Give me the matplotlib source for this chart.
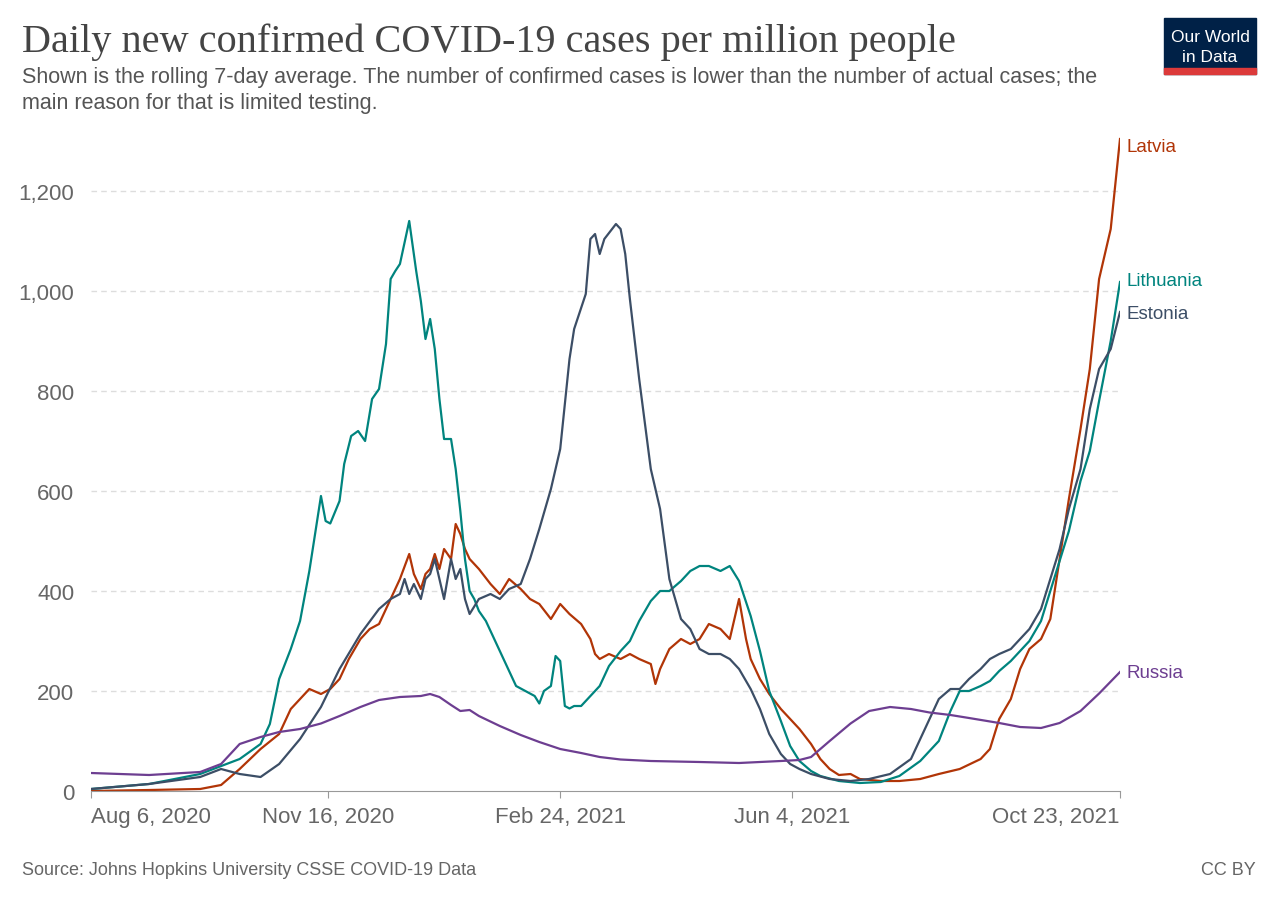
import matplotlib
matplotlib.use("Agg")
import matplotlib.pyplot as plt
from matplotlib.patches import Rectangle

plt.rcParams['font.family'] = ['Liberation Sans', 'DejaVu Sans']

tick_days = [0, 102, 202, 302, 443]
tick_labels = ["Aug 6, 2020", "Nov 16, 2020", "Feb 24, 2021", "Jun 4, 2021", "Oct 23, 2021"]
y_ticks = [0, 200, 400, 600, 800, 1000, 1200]

lithuania = [(0,4),(25,14),(47,34),(64,64),(73,94),(77,134),(81,224),(86,284),(90,340),(94,440),(99,590),(101,540),(103,535),(107,580),(109,654),(112,710),(115,720),(118,700),(121,784),(124,804),(127,894),(129,1024),(131,1040),(133,1054),(137,1140),(140,1040),(142,980),(144,904),(146,944),(148,884),(150,784),(152,704),(155,704),(157,644),(159,560),(161,464),(163,400),(165,384),(167,360),(170,340),(174,300),(178,260),(183,210),(187,200),(191,190),(193,175),(195,200),(198,210),(200,270),(202,260),(204,170),(206,165),(208,170),(211,170),(215,190),(219,210),(223,250),(228,280),(232,300),(236,340),(241,380),(245,400),(249,400),(254,420),(258,440),(262,450),(266,450),(271,440),(275,450),(279,420),(284,350),(288,280),(292,200),(297,140),(301,90),(305,60),(310,40),(314,30),(322,20),(331,16),(340,18),(348,30),(357,60),(365,100),(370,160),(374,200),(378,200),(383,210),(387,220),(391,240),(396,260),(400,280),(404,300),(409,340),(413,400),(417,460),(421,520),(426,620),(430,680),(434,780),(439,900),(443,1018)]

estonia = [(0,4),(25,14),(47,28),(56,44),(64,34),(73,28),(81,54),(90,104),(99,168),(107,244),(116,314),(124,364),(129,384),(133,394),(135,424),(137,394),(139,414),(142,384),(144,424),(146,434),(148,464),(150,424),(152,384),(155,464),(157,424),(159,444),(161,384),(163,354),(167,384),(172,394),(176,384),(180,404),(185,414),(189,464),(193,524),(198,604),(202,684),(206,864),(208,924),(213,994),(215,1104),(217,1114),(219,1074),(221,1104),(226,1134),(228,1124),(230,1074),(232,984),(236,824),(241,644),(245,564),(249,424),(254,344),(258,324),(262,284),(266,274),(271,274),(275,264),(279,244),(284,204),(288,164),(292,114),(297,74),(301,54),(305,44),(310,34),(318,24),(327,20),(335,24),(344,34),(353,64),(357,104),(361,144),(365,184),(370,204),(374,204),(378,224),(383,244),(387,264),(391,274),(396,284),(400,304),(404,324),(409,364),(413,424),(417,484),(421,564),(426,644),(430,764),(434,844),(439,884),(443,958)]

latvia = [(0,0),(25,2),(47,4),(56,12),(64,44),(73,84),(81,114),(86,164),(90,184),(94,204),(99,194),(103,204),(107,224),(111,264),(116,304),(120,324),(124,334),(129,384),(133,424),(137,474),(139,434),(142,404),(144,434),(146,444),(148,474),(150,444),(152,484),(155,464),(157,534),(159,514),(161,484),(163,464),(167,444),(172,414),(176,394),(180,424),(185,404),(189,384),(193,374),(198,344),(202,374),(206,354),(211,334),(215,304),(217,274),(219,264),(223,274),(228,264),(232,274),(236,264),(241,254),(243,214),(245,244),(249,284),(254,304),(258,294),(262,304),(266,334),(271,324),(275,304),(279,384),(282,304),(284,264),(288,224),(292,194),(297,164),(301,144),(305,124),(310,94),(314,64),(318,44),(322,32),(327,34),(331,24),(340,20),(348,20),(357,24),(365,34),(374,44),(383,64),(387,84),(391,144),(396,184),(400,244),(404,284),(409,304),(413,344),(417,464),(421,584),(426,724),(430,844),(434,1024),(439,1124),(443,1304)]

russia = [(0,36),(25,32),(47,38),(56,54),(64,94),(73,108),(81,118),(90,124),(99,135),(107,150),(116,168),(124,182),(133,188),(142,190),(146,194),(150,188),(155,172),(159,160),(163,162),(167,150),(176,130),(185,112),(193,98),(202,84),(211,76),(219,68),(228,63),(241,60),(262,58),(279,56),(288,58),(297,60),(305,62),(310,68),(318,100),(327,135),(335,160),(344,168),(353,164),(361,157),(370,152),(378,146),(391,136),(400,128),(409,126),(417,136),(426,160),(434,195),(443,238)]

series = [("Latvia", latvia, "#b13507"), ("Lithuania", lithuania, "#00847e"),
          ("Estonia", estonia, "#3c4e66"), ("Russia", russia, "#6d3e91")]

fig = plt.figure(figsize=(12.8, 9.04), dpi=100)
ax = fig.add_axes([91/1280, 1-792/904, (1120-91)/1280, (792-135)/904])
for name, data, c in series:
    xs = [p[0] for p in data]; ys = [p[1] for p in data]
    ax.plot(xs, ys, color=c, lw=1.6, solid_joinstyle="round")
label_y = {"Latvia": 1290, "Lithuania": 1020, "Estonia": 955, "Russia": 238}
for name, data, c in series:
    ax.text(446, label_y[name], name, color=c, fontsize=13.5, va="center", ha="left")

ax.set_xlim(0, 443)
ax.set_ylim(0, 1314)
ax.set_yticks(y_ticks)
ax.set_yticklabels([f"{v:,}" for v in y_ticks], fontsize=16, color="#666666")
ax.set_xticks(tick_days)
ax.set_xticklabels(tick_labels, fontsize=16, color="#666666")
xl = ax.get_xticklabels()
xl[0].set_ha("left"); xl[-1].set_ha("right")
ax.tick_params(axis="y", length=0, pad=12)
ax.tick_params(axis="x", length=5, color="#999999", pad=6)
for v in y_ticks[1:]:
    ax.axhline(v, color="#dddddd", lw=1, ls=(0, (4, 3)), zorder=0)
for s in ["top", "right", "left"]:
    ax.spines[s].set_visible(False)
ax.spines["bottom"].set_color("#999999")

fig.text(22/1280, 1-42/904, "Daily new confirmed COVID-19 cases per million people",
         fontsize=29, family="Liberation Serif", color="#444444", va="center")
fig.text(22/1280, 1-77/904, "Shown is the rolling 7-day average. The number of confirmed cases is lower than the number of actual cases; the",
         fontsize=15.5, color="#555555", va="center")
fig.text(22/1280, 1-103/904, "main reason for that is limited testing.",
         fontsize=15.5, color="#555555", va="center")
fig.text(22/1280, 1-871/904, "Source: Johns Hopkins University CSSE COVID-19 Data", fontsize=13, color="#666666", va="center")
fig.text(1256/1280, 1-871/904, "CC BY", fontsize=13, color="#666666", va="center", ha="right")

fig.patches.append(Rectangle((1164/1280, 1-75/904), 92/1280, 56/904, transform=fig.transFigure, color="#002147"))
fig.patches.append(Rectangle((1164/1280, 1-75/904), 92/1280, 6/904, transform=fig.transFigure, color="#dc3a3a"))
fig.text(1210/1280, 1-37/904, "Our World", fontsize=12.5, color="white", ha="center", va="center")
fig.text(1210/1280, 1-57/904, "in Data", fontsize=12.5, color="white", ha="center", va="center")

fig.savefig("out.png", dpi=100)
